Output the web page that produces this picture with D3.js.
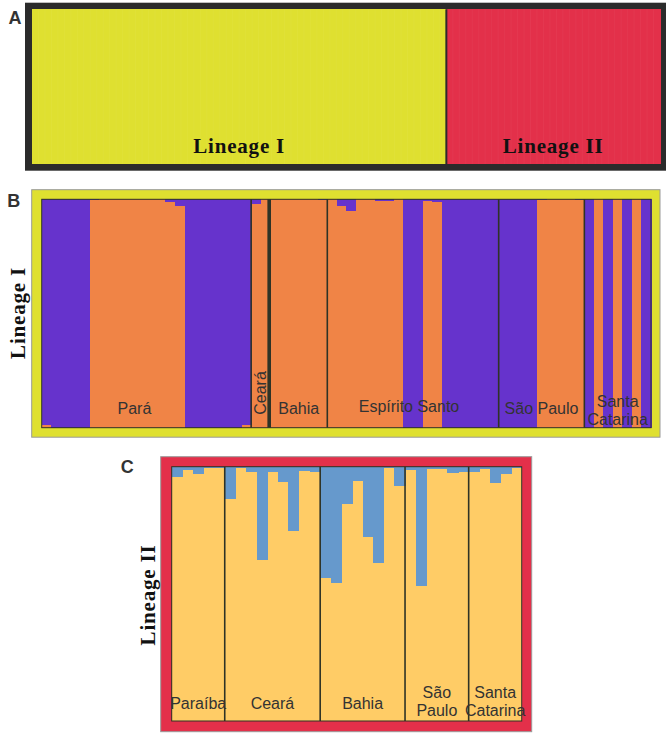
<!DOCTYPE html>
<html><head><meta charset="utf-8">
<script src="https://cdn.jsdelivr.net/npm/d3@7"></script>
<style>body{margin:0;background:#fff}</style></head>
<body><svg id="c" width="669" height="736"></svg>
<script>
// ---------------- data ----------------
const lineages = ["Lineage I", "Lineage II"];
const lineageCounts = [64, 33];

const popsB = ["Pará", "Ceará", "Bahia", "Espírito Santo", "São Paulo", "Santa Catarina"];
const countsB = [22, 2, 6, 18, 9, 7];
// membership in orange cluster (rest = purple), one value per individual
const orangeB = [
  // Pará (22)
  0.01, 0, 0, 0, 0,
  0.995, 1, 1, 1, 1, 1, 1, 1, 0.99, 0.97,
  0, 0, 0, 0, 0, 0, 0.01,
  // Ceará (2)
  0.98, 1,
  // Bahia (6)
  1, 1, 1, 1, 1, 0.995,
  // Espírito Santo (18)
  1, 0.972, 0.95, 1, 1, 0.994, 0.994, 1,
  0, 0,
  0.993, 0.99,
  0, 0, 0, 0, 0, 0,
  // São Paulo (9)
  0, 0, 0, 0,
  0.996, 1, 1, 1, 0.995,
  // Santa Catarina (7)
  0, 1, 0, 1, 0, 1, 0
];

const popsC = ["Paraíba", "Ceará", "Bahia", "São Paulo", "Santa Catarina"];
const countsC = [5, 9, 8, 6, 5];
// membership in blue cluster (rest = light orange), one value per individual
const blueC = [
  // Paraíba (5)
  0.042, 0.013, 0.029, 0.007, 0.004,
  // Ceará (9)
  0.127, 0.007, 0.02, 0.368, 0.02, 0.059, 0.253, 0.017, 0.022,
  // Bahia (8)
  0.439, 0.459, 0.147, 0.055, 0.275, 0.379, 0.007, 0.076,
  // São Paulo (6)
  0.013, 0.469, 0.009, 0.009, 0.026, 0.02,
  // Santa Catarina (5)
  0.022, 0.009, 0.063, 0.03, 0.007
];

const panelLetters = ["A", "B", "C"];

// ---------------- style ----------------
const COL = {
  yellow: "#dfe030", red: "#e3304a", purple: "#6633cc", orange: "#f08446",
  blue: "#6699cc", lightOrange: "#ffcc66", dark: "#2b2b2b", sep: "#2f3326", text: "#333"
};
const svg = d3.select("#c");
const sans = "Liberation Sans, Arial, sans-serif";
const serif = "Liberation Serif, Times New Roman, serif";

function cumul(counts) { let s = 0; return counts.map(c => (s += c)); }

// ---------------- Panel A ----------------
{
  const total = d3.sum(lineageCounts);
  const x = d3.scaleLinear().domain([0, total]).range([32, 660]);
  const y = d3.scaleLinear().domain([0, 1]).range([164, 9.3]);
  svg.append("rect").attr("x", 25).attr("y", 2.7).attr("width", 641).attr("height", 168)
    .attr("fill", COL.dark);
  const cols = [COL.yellow, COL.red];
  const inds = [];
  lineageCounts.forEach((c, li) => { for (let k = 0; k < c; k++) inds.push(li); });
  const g = svg.append("g").attr("shape-rendering", "crispEdges");
  g.selectAll("rect").data(inds).join("rect")
    .attr("x", (d, i) => x(i)).attr("width", x(1) - x(0) + 0.5)
    .attr("y", y(1)).attr("height", y(0) - y(1))
    .attr("fill", d => cols[d]);
  // faint individual separators
  svg.append("g").selectAll("line").data(d3.range(1, total)).join("line")
    .attr("x1", d => x(d)).attr("x2", d => x(d)).attr("y1", y(1)).attr("y2", y(0))
    .attr("stroke", "#ffffff").attr("stroke-opacity", 0.05).attr("stroke-width", 0.8);
  const ends = cumul(lineageCounts);
  svg.append("line").attr("x1", x(ends[0])).attr("x2", x(ends[0]))
    .attr("y1", y(1)).attr("y2", y(0)).attr("stroke", COL.dark).attr("stroke-width", 2);
  lineages.forEach((lab, i) => {
    const start = i === 0 ? 0 : ends[i - 1];
    svg.append("text").attr("x", x((start + ends[i]) / 2)).attr("y", 153.3)
      .attr("text-anchor", "middle").attr("font-family", serif).attr("font-weight", "bold")
      .attr("font-size", 21).attr("letter-spacing", 0.8).attr("fill", "#111").text(lab);
  });
  svg.append("text").attr("x", 8.5).attr("y", 23.6).attr("font-family", sans)
    .attr("font-weight", "bold").attr("font-size", 18).attr("fill", COL.text).text(panelLetters[0]);
}

// ---------------- Panel B ----------------
{
  const total = d3.sum(countsB);
  svg.append("rect").attr("x", 31.7).attr("y", 189.7).attr("width", 628.3).attr("height", 247.5)
    .attr("fill", COL.yellow).attr("stroke", "#9a9a9a").attr("stroke-width", 1);
  const x = d3.scaleLinear().domain([0, total]).range([41.7, 651]);
  const y = d3.scaleLinear().domain([0, 1]).range([427.7, 199.3]);
  const w = x(1) - x(0) + 0.5;
  const g = svg.append("g").attr("shape-rendering", "crispEdges");
  g.selectAll("rect.o").data(orangeB).join("rect").attr("class", "o")
    .attr("x", (d, i) => x(i)).attr("width", w)
    .attr("y", d => y(d)).attr("height", d => y(0) - y(d)).attr("fill", COL.orange);
  g.selectAll("rect.p").data(orangeB).join("rect").attr("class", "p")
    .attr("x", (d, i) => x(i)).attr("width", w)
    .attr("y", y(1)).attr("height", d => y(d) - y(1)).attr("fill", COL.purple);
  svg.append("rect").attr("x", x(0)).attr("y", y(1)).attr("width", x(total) - x(0))
    .attr("height", y(0) - y(1)).attr("fill", "none").attr("stroke", COL.sep).attr("stroke-width", 1);
  const ends = cumul(countsB);
  ends.slice(0, -1).forEach((e, i) => {
    const thick = i === 1;
    svg.append("line").attr("x1", x(e) - (thick ? 1 : 0)).attr("x2", x(e) - (thick ? 1 : 0))
      .attr("y1", y(1)).attr("y2", y(0))
      .attr("stroke", COL.sep).attr("stroke-width", thick ? 3.6 : 1.6);
  });
  const lt = svg.append("g").attr("font-family", sans).attr("font-size", 16).attr("fill", COL.text)
    .attr("text-anchor", "middle");
  popsB.forEach((p, i) => {
    const start = i === 0 ? 0 : ends[i - 1];
    const cx = x((start + ends[i]) / 2);
    if (p === "Ceará") {
      lt.append("text").attr("transform", `translate(${cx - 0.5},393) rotate(-90)`)
        .attr("dy", "0.36em").text(p);
    } else if (p === "Santa Catarina") {
      const parts = p.split(" ");
      lt.append("text").attr("x", cx).attr("y", 406.6).text(parts[0]);
      lt.append("text").attr("x", cx).attr("y", 424.6).text(parts[1]);
    } else {
      const dx = p === "Pará" ? -12 : (p === "Espírito Santo" ? -4 : 0);
      lt.append("text").attr("x", cx + dx).attr("y", p === "Espírito Santo" ? 412.4 : 413.5).text(p);
    }
  });
  svg.append("text").attr("transform", "translate(25,313) rotate(-90)")
    .attr("text-anchor", "middle").attr("font-family", serif).attr("font-weight", "bold")
    .attr("font-size", 21).attr("letter-spacing", 0.8).attr("fill", "#111").text(lineages[0]);
  svg.append("text").attr("x", 7.3).attr("y", 206.7).attr("font-family", sans)
    .attr("font-weight", "bold").attr("font-size", 18).attr("fill", COL.text).text(panelLetters[1]);
}

// ---------------- Panel C ----------------
{
  const total = d3.sum(countsC);
  svg.append("rect").attr("x", 160.7).attr("y", 456.7).attr("width", 371).attr("height", 275)
    .attr("fill", COL.red).attr("stroke", "#9a9a9a").attr("stroke-width", 1);
  const x = d3.scaleLinear().domain([0, total]).range([171.7, 521.7]);
  const y = d3.scaleLinear().domain([0, 1]).range([721, 466.7]);
  const w = x(1) - x(0) + 0.5;
  const g = svg.append("g").attr("shape-rendering", "crispEdges");
  g.selectAll("rect.y").data(blueC).join("rect").attr("class", "y")
    .attr("x", (d, i) => x(i)).attr("width", w)
    .attr("y", d => y(1 - d)).attr("height", d => y(0) - y(1 - d)).attr("fill", COL.lightOrange);
  g.selectAll("rect.b").data(blueC).join("rect").attr("class", "b")
    .attr("x", (d, i) => x(i)).attr("width", w)
    .attr("y", y(1)).attr("height", d => y(1 - d) - y(1)).attr("fill", COL.blue);
  svg.append("rect").attr("x", x(0)).attr("y", y(1)).attr("width", x(total) - x(0))
    .attr("height", y(0) - y(1)).attr("fill", "none").attr("stroke", COL.sep).attr("stroke-width", 1);
  const ends = cumul(countsC);
  ends.slice(0, -1).forEach(e => {
    svg.append("line").attr("x1", x(e)).attr("x2", x(e)).attr("y1", y(1)).attr("y2", y(0))
      .attr("stroke", COL.sep).attr("stroke-width", 1.6);
  });
  const lt = svg.append("g").attr("font-family", sans).attr("font-size", 16).attr("fill", COL.text)
    .attr("text-anchor", "middle");
  popsC.forEach((p, i) => {
    const start = i === 0 ? 0 : ends[i - 1];
    const cx = x((start + ends[i]) / 2);
    const parts = p.split(" ");
    if (parts.length > 1) {
      lt.append("text").attr("x", cx).attr("y", 697.6).text(parts[0]);
      lt.append("text").attr("x", cx).attr("y", 716.3).text(parts[1]);
    } else {
      lt.append("text").attr("x", cx).attr("y", 708.6).text(p);
    }
  });
  svg.append("text").attr("transform", "translate(155,595) rotate(-90)")
    .attr("text-anchor", "middle").attr("font-family", serif).attr("font-weight", "bold")
    .attr("font-size", 21).attr("letter-spacing", 0.8).attr("fill", "#111").text(lineages[1]);
  svg.append("text").attr("x", 120.7).attr("y", 473).attr("font-family", sans)
    .attr("font-weight", "bold").attr("font-size", 18).attr("fill", COL.text).text(panelLetters[2]);
}
</script>
</body></html>
